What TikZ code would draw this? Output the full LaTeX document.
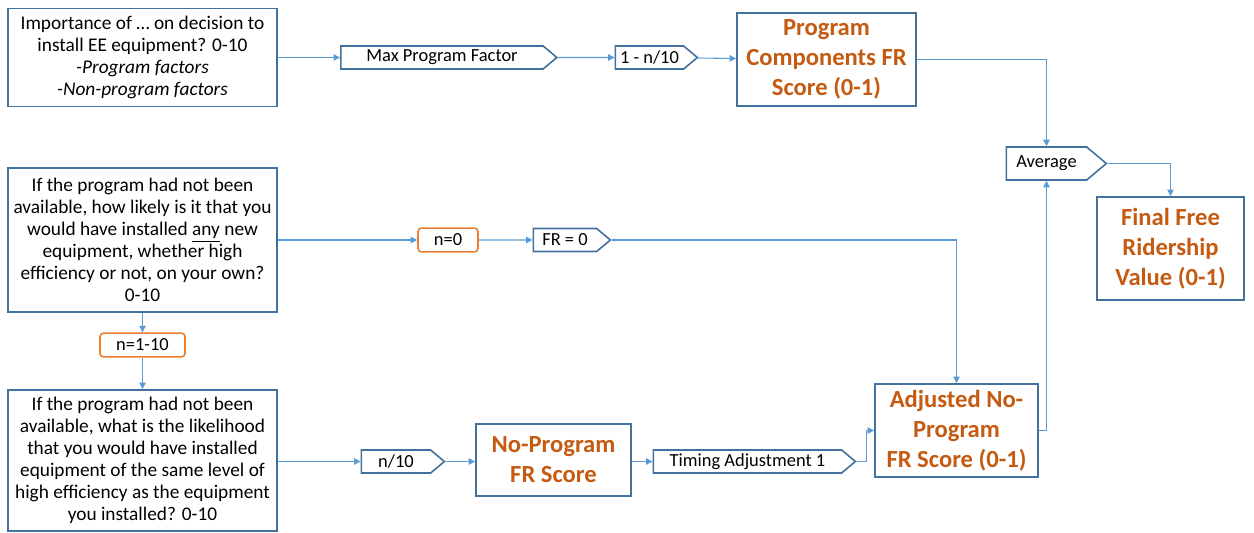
\documentclass[tikz,border=0pt]{standalone}
\usepackage{fontspec}
\setmainfont{Carlito}
\usetikzlibrary{arrows.meta,positioning,shapes.symbols}
\definecolor{boxblue}{RGB}{65,113,156}
\definecolor{lineblue}{RGB}{91,155,213}
\definecolor{scoreorange}{RGB}{197,90,17}
\definecolor{condorange}{RGB}{237,125,49}

\begin{document}
\begin{tikzpicture}[
    question/.style={draw=boxblue, line width=1pt, fill=white, minimum width=5.38cm, align=center, font=\fontsize{11}{12.5}\selectfont, inner sep=2pt},
    score/.style={draw=boxblue, line width=1pt, fill=white, align=center, font=\fontsize{14}{17}\selectfont\bfseries, text=scoreorange, inner sep=2pt},
    calc/.style={signal, signal to=east, signal pointer angle=80, draw=boxblue, line width=0.9pt, fill=white, minimum height=0.46cm, inner sep=1pt, font=\fontsize{10.5}{12}\selectfont},
    cond/.style={draw=condorange, line width=0.9pt, rounded corners=2pt, fill=white, minimum height=0.46cm, font=\fontsize{10.5}{12}\selectfont},
    arrow/.style={-{Triangle[length=1.3mm,width=1.3mm]}, lineblue, line width=0.6pt},
]
\useasboundingbox (0,0) rectangle (25.08,-10.66);

% left column: survey questions
\node[question, minimum height=1.96cm] (q1) at (2.85,-1.15) {Importance of \dots\ on decision to\\install EE equipment? 0-10\\\textit{-Program factors}\\\textit{-Non-program factors}};
\node[question, minimum height=2.88cm] (q2) at (2.85,-4.8) {If the program had not been\\available, how likely is it that you\\would have installed \underline{any} new\\equipment, whether high\\efficiency or not, on your own?\\0-10};
\node[question, minimum height=2.82cm] (q3) at (2.85,-9.21) {If the program had not been\\available, what is the likelihood\\that you would have installed\\equipment of the same level of\\high efficiency as the equipment\\you installed? 0-10};
\node[cond, minimum width=1.7cm] (nsome) at (2.85,-6.9) {n=1-10};

% top row
\node[calc, minimum width=4.32cm] (maxpf) at (8.84,-1.15) {Max Program Factor};
\node[calc, minimum width=1.64cm] (oneminus) at (12.99,-1.15) {1 - n/10};
\node[score, minimum width=3.58cm, minimum height=1.86cm] (progcomp) at (16.53,-1.19) {Program\\Components FR\\Score (0-1)};

% middle row
\node[cond, minimum width=1.2cm] (nzero) at (8.96,-4.8) {n=0};
\node[calc, minimum width=1.54cm] (frzero) at (11.3,-4.8) {FR = 0};

% bottom row
\node[calc, minimum width=1.66cm] (ndiv) at (7.92,-9.23) {n/10};
\node[score, minimum width=3.1cm, minimum height=1.44cm] (noprog) at (11.07,-9.2) {No-Program\\FR Score};
\node[calc, minimum width=4.04cm] (timing) at (14.95,-9.23) {Timing Adjustment 1};
\node[score, minimum width=3.26cm, minimum height=1.86cm] (adjusted) at (19.13,-8.61) {Adjusted No-\\Program\\FR Score (0-1)};

% right side
\node[calc, minimum width=2.0cm, minimum height=0.66cm] (average) at (20.93,-3.27) {Average};
\node[score, minimum width=2.94cm, minimum height=2.06cm] (final) at (23.41,-4.97) {Final Free\\Ridership\\Value (0-1)};

\draw[arrow] (q1.east) -- (maxpf.west);
\draw[arrow] (maxpf) -- (oneminus);
\draw[arrow] (oneminus) -- (progcomp);
\draw[arrow] (q2.east) -- (nzero.west);
\draw[arrow] (nzero) -- (frzero);
\draw[arrow] (q2) -- (nsome);
\draw[arrow] (nsome) -- (q3);
\draw[arrow] (q3.east |- ndiv) -- (ndiv.west);
\draw[arrow] (ndiv.east) -- (noprog.west |- ndiv);
\draw[arrow] (noprog.east |- timing) -- (timing.west);
\draw[arrow] (timing.east) -- ++(0.2,0) |- (adjusted.west);
\draw[arrow] (frzero.east) -| (adjusted.north);
\draw[arrow] (progcomp.east) -| (average.north);
\draw[arrow] (adjusted.east) -| (average.south);
\draw[arrow] (average.east) -| (final.north);
\end{tikzpicture}
\end{document}
